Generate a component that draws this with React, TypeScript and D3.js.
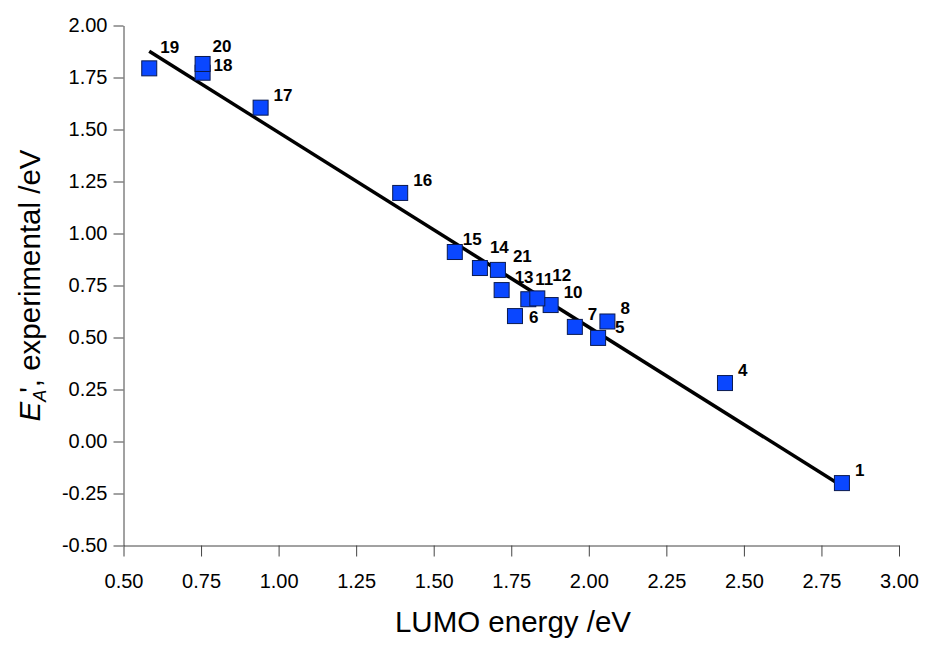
import { useEffect, useRef } from "react";
import * as d3 from "d3";

// compound numbers and their measured values
const ids = [1, 4, 5, 6, 7, 8, 10, 11, 12, 13, 14, 15, 16, 17, 18, 19, 20, 21];
const lumo = [2.816, 2.439, 2.03, 1.762, 1.955, 2.06, 1.877, 1.805, 1.834, 1.719, 1.649, 1.568, 1.392, 0.942, 0.755, 0.583, 0.755, 1.707];
const affinity = [-0.2, 0.281, 0.498, 0.603, 0.551, 0.577, 0.656, 0.684, 0.688, 0.728, 0.834, 0.911, 1.195, 1.605, 1.773, 1.794, 1.815, 0.825];

// linear fit
const fitSlope = -0.936;
const fitIntercept = 2.422;

const xTicks = [0.5, 0.75, 1.0, 1.25, 1.5, 1.75, 2.0, 2.25, 2.5, 2.75, 3.0];
const yTicks = [-0.5, -0.25, 0, 0.25, 0.5, 0.75, 1.0, 1.25, 1.5, 1.75, 2.0];

// label offsets (px from marker centre) where the default doesn't fit
const nudge: Record<number, [number, number]> = {
  5: [17, -5],
  6: [14, 7],
  11: [7, -14],
  12: [15, -17],
  14: [10, -15],
  15: [8, -7],
  18: [11, -2],
  19: [11, -15],
  20: [10, -12],
  21: [15, -8],
};

export default function App() {
  const ref = useRef<SVGSVGElement>(null);

  useEffect(() => {
    document.body.style.margin = "0";
    const svg = d3.select(ref.current);
    svg.selectAll("*").remove();

    const x = d3.scaleLinear().domain([0.5, 3.0]).range([123.5, 899]);
    const y = d3.scaleLinear().domain([-0.5, 2.0]).range([545.5, 25.5]);
    const font = "'Liberation Sans', Arial, sans-serif";
    const fmt = (d: d3.NumberValue) => (+d).toFixed(2);

    const xAxis = svg
      .append("g")
      .attr("transform", `translate(0,${y(-0.5)})`)
      .call(
        d3
          .axisBottom(x)
          .tickValues(xTicks)
          .tickSize(11)
          .tickSizeOuter(0)
          .tickPadding(17)
          .tickFormat(fmt)
      );
    xAxis.select(".domain").attr("stroke", "#444");
    xAxis.selectAll("line").attr("stroke", "#444");
    xAxis
      .selectAll("text")
      .attr("font-family", font)
      .attr("font-size", 20)
      .attr("fill", "#000");

    const yAxis = svg
      .append("g")
      .attr("transform", `translate(${x(0.5)},0)`)
      .call(
        d3
          .axisLeft(y)
          .tickValues(yTicks)
          .tickSize(10)
          .tickSizeOuter(0)
          .tickPadding(6)
          .tickFormat(fmt)
      );
    yAxis.select(".domain").attr("stroke", "#444");
    yAxis.selectAll("line").attr("stroke", "#444");
    yAxis
      .selectAll("text")
      .attr("font-family", font)
      .attr("font-size", 20)
      .attr("fill", "#000");

    // fit line across the data range
    const [x0, x1] = d3.extent(lumo) as [number, number];
    svg
      .append("line")
      .attr("x1", x(x0))
      .attr("y1", y(fitIntercept + fitSlope * x0))
      .attr("x2", x(x1))
      .attr("y2", y(fitIntercept + fitSlope * x1))
      .attr("stroke", "#000")
      .attr("stroke-width", 3.5);

    const pts = ids.map((id, i) => ({ id, lx: lumo[i], ea: affinity[i] }));
    const s = 15;

    svg
      .selectAll(".pt")
      .data(pts)
      .join("rect")
      .attr("class", "pt")
      .attr("x", (d) => x(d.lx) - s / 2)
      .attr("y", (d) => y(d.ea) - s / 2)
      .attr("width", s)
      .attr("height", s)
      .attr("fill", "#0a47ff")
      .attr("stroke", "#0a1a50")
      .attr("stroke-width", 1);

    svg
      .selectAll(".lbl")
      .data(pts)
      .join("text")
      .attr("class", "lbl")
      .attr("x", (d) => x(d.lx) + (nudge[d.id]?.[0] ?? 13))
      .attr("y", (d) => y(d.ea) + (nudge[d.id]?.[1] ?? -7))
      .attr("font-family", font)
      .attr("font-size", 17)
      .attr("font-weight", 700)
      .attr("fill", "#000")
      .text((d) => d.id);

    svg
      .append("text")
      .attr("x", 513)
      .attr("y", 632)
      .attr("text-anchor", "middle")
      .attr("font-family", font)
      .attr("font-size", 29.5)
      .attr("fill", "#000")
      .text("LUMO energy /eV");

    const yt = svg
      .append("text")
      .attr("transform", `translate(40,${(y(-0.5) + y(2.0)) / 2}) rotate(-90)`)
      .attr("text-anchor", "middle")
      .attr("font-family", font)
      .attr("font-size", 29.5)
      .attr("fill", "#000");
    yt.append("tspan").attr("font-style", "italic").text("E");
    yt.append("tspan")
      .attr("font-style", "italic")
      .attr("font-size", 18)
      .attr("dy", 6)
      .text("A");
    yt.append("tspan").attr("dy", -6).attr("dx", -3).text("', experimental /eV");
  }, []);

  return <svg ref={ref} width={929} height={648} style={{ display: "block" }} />;
}
